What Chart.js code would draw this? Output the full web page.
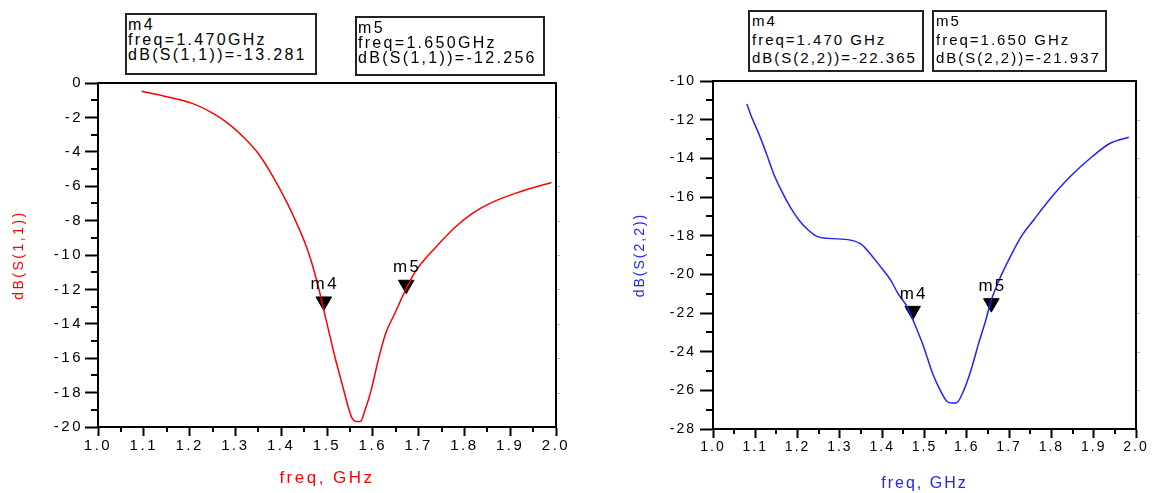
<!DOCTYPE html>
<html>
<head>
<meta charset="utf-8">
<script src="https://cdn.jsdelivr.net/npm/chart.js@4.4.1/dist/chart.umd.min.js"></script>
<style>
html, body { margin: 0; padding: 0; background: #fff; }
#wrap { position: relative; width: 1153px; height: 493px; overflow: hidden; background: #fff; font-family: "Liberation Sans", Arial, sans-serif; }
canvas { position: absolute; top: 0; }
#s11 { left: 0; }
#s22 { left: 600px; }
.box { position: absolute; box-sizing: border-box; border: 2px solid #222; background: #fff; color: #000; white-space: pre; overflow: hidden; }
.box.l { font-size: 16px; letter-spacing: 2.3px; line-height: 15px; padding: 2px 0 0 1px; }
.box.r { font-size: 15px; letter-spacing: 2px; line-height: 18.5px; padding: 0 0 0 2px; }
</style>
</head>
<body>
<div id="wrap">
  <canvas id="s11" width="600" height="493"></canvas>
  <canvas id="s22" width="553" height="493"></canvas>
  <div id="b11m4" class="box l" style="left:125px;top:13px;width:192px;height:62px"></div>
  <div id="b11m5" class="box l" style="left:355px;top:16px;width:190px;height:60px"></div>
  <div id="b22m4" class="box r" style="left:748px;top:10px;width:176px;height:62px"></div>
  <div id="b22m5" class="box r" style="left:932px;top:10px;width:175px;height:62px"></div>
</div>
<script>
// dB(S(1,1))
const s11Freq = [1.095, 1.143, 1.207, 1.254, 1.286, 1.318, 1.35, 1.382, 1.413, 1.437, 1.452, 1.465, 1.481, 1.493, 1.505, 1.517,
  1.535, 1.547, 1.555, 1.563, 1.573, 1.582, 1.596, 1.612, 1.628, 1.648, 1.668, 1.692, 1.715, 1.739, 1.779, 1.819, 1.858, 1.914, 1.99];
const s11Db = [-0.48, -0.76, -1.2, -1.81, -2.39, -3.15, -4.1, -5.44, -6.97, -8.35, -9.3, -10.3, -11.84, -13.2, -14.56, -15.9,
  -17.7, -18.9, -19.5, -19.68, -19.68, -19.1, -17.9, -16.1, -14.56, -13.4, -12.23, -11.0, -10.2, -9.5, -8.4, -7.55, -6.97, -6.39, -5.78];

// dB(S(2,2))
const s22Freq = [1.08, 1.091, 1.108, 1.126, 1.143, 1.165, 1.182, 1.203, 1.225, 1.247, 1.273, 1.325, 1.351, 1.368, 1.394, 1.42,
  1.437, 1.459, 1.476, 1.498, 1.519, 1.537, 1.554, 1.565, 1.576, 1.593, 1.61, 1.628, 1.645, 1.658, 1.68, 1.706, 1.73, 1.758,
  1.801, 1.844, 1.896, 1.939, 1.983];
const s22Db = [-11.19, -11.85, -12.71, -13.74, -14.78, -15.81, -16.5, -17.19, -17.71, -18.05, -18.14, -18.23, -18.45, -18.85, -19.55, -20.3,
  -20.98, -21.68, -22.53, -23.74, -25.12, -25.99, -26.59, -26.65, -26.64, -25.99, -24.95, -23.57, -22.36, -21.33, -20.12, -18.95, -18.0, -17.19,
  -15.99, -14.95, -13.92, -13.22, -12.91];

// markers (triangle positions as drawn) and their readouts
const markerNames = ["m4", "m5"];
const s11MarkerFreq = [1.493, 1.673];
const s11MarkerDb = [-12.70, -11.73];
const s22MarkerFreq = [1.472, 1.658];
const s22MarkerDb = [-21.89, -21.49];
const s11Readout = [["m4", "freq=1.470GHz", "dB(S(1,1))=-13.281"], ["m5", "freq=1.650GHz", "dB(S(1,1))=-12.256"]];
const s22Readout = [["m4", "freq=1.470 GHz", "dB(S(2,2))=-22.365"], ["m5", "freq=1.650 GHz", "dB(S(2,2))=-21.937"]];

const freqTicks = { min: 1, max: 2, step: 0.1 };
const s11Range = { min: -20, max: 0, step: 2 };
const s22Range = { min: -28, max: -10, step: 2 };

const FONT = '"Liberation Sans", Arial, sans-serif';
const RED = "#ff0000";
const BLUE = "#2222ff";

document.getElementById("b11m4").textContent = s11Readout[0].join("\n");
document.getElementById("b11m5").textContent = s11Readout[1].join("\n");
document.getElementById("b22m4").textContent = s22Readout[0].join("\n");
document.getElementById("b22m5").textContent = s22Readout[1].join("\n");

const plotDeco = {
    id: "plotDeco",
    beforeDraw(chart, args, opts) {
        chart.ctx.letterSpacing = opts.spacing;
    },
    beforeDatasetsDraw(chart, args, opts) {
        const { ctx, chartArea: a, scales: { x, y } } = chart;
        ctx.save();
        ctx.strokeStyle = "#000";
        ctx.lineWidth = 2;
        ctx.strokeRect(a.left, a.top, a.right - a.left, a.bottom - a.top);
        ctx.beginPath();
        // minor ticks every 0.05 GHz and every 1 dB
        for (let i = 0; i < 10; i++) {
            const px = Math.round(x.getPixelForValue(freqTicks.min + 0.05 + i * 0.1));
            ctx.moveTo(px, a.bottom);
            ctx.lineTo(px, a.bottom + opts.minorX);
        }
        for (let v = y.min + 1; v < y.max; v += 2) {
            const py = Math.round(y.getPixelForValue(v));
            ctx.moveTo(a.left - opts.minorY, py);
            ctx.lineTo(a.left, py);
        }
        ctx.stroke();
        ctx.strokeStyle = "#bbb";
        ctx.lineWidth = 1;
        ctx.beginPath();
        for (let v = y.min + 2; v < y.max; v += 2) {
            const py = Math.round(y.getPixelForValue(v)) + 0.5;
            ctx.moveTo(a.right + 1, py);
            ctx.lineTo(a.right + 4, py);
        }
        ctx.stroke();
        ctx.restore();
    },
    afterDatasetsDraw(chart, args, opts) {
        const { ctx } = chart;
        const meta = chart.getDatasetMeta(1);
        ctx.save();
        ctx.font = opts.labelFont;
        ctx.fillStyle = "#000";
        ctx.textAlign = "center";
        ctx.textBaseline = "middle";
        meta.data.forEach((pt, i) => ctx.fillText(markerNames[i], pt.x + 1, pt.y - 17));
        ctx.restore();
    }
};

function makePlot(canvasId, cfg) {
    return new Chart(document.getElementById(canvasId), {
        type: "scatter",
        data: {
            datasets: [
                {
                    data: cfg.freq.map((f, i) => ({ x: f, y: cfg.db[i] })),
                    showLine: true,
                    borderColor: cfg.color,
                    borderWidth: 1.5,
                    pointRadius: 0,
                    cubicInterpolationMode: "monotone"
                },
                {
                    data: cfg.markerFreq.map((f, i) => ({ x: f, y: cfg.markerDb[i] })),
                    showLine: false,
                    pointStyle: "triangle",
                    rotation: 180,
                    pointRadius: 9,
                    backgroundColor: "#000",
                    borderColor: "#000",
                    borderWidth: 1
                }
            ]
        },
        options: {
            responsive: false,
            animation: false,
            events: [],
            layout: { padding: { left: 0, top: cfg.top, right: cfg.right, bottom: 0 } },
            plugins: {
                legend: { display: false },
                tooltip: { enabled: false },
                plotDeco: { spacing: cfg.spacing, minorX: 5, minorY: 7, labelFont: "17px " + FONT }
            },
            scales: {
                x: {
                    type: "linear",
                    min: freqTicks.min,
                    max: freqTicks.max,
                    afterFit: s => { s.height = cfg.xHeight; },
                    ticks: {
                        stepSize: freqTicks.step,
                        autoSkip: false,
                        maxRotation: 0,
                        padding: cfg.xPad,
                        color: "#000",
                        font: { family: FONT, size: cfg.tickSize },
                        callback: v => Number(v).toFixed(1)
                    },
                    grid: { drawOnChartArea: false, tickLength: 9, tickWidth: 2, tickColor: "#000" },
                    border: { color: "#000", width: 2 },
                    title: {
                        display: true,
                        text: "freq, GHz",
                        color: cfg.color,
                        font: { family: FONT, size: cfg.xTitleSize },
                        padding: { top: 0, bottom: cfg.xTitlePad }
                    }
                },
                y: {
                    min: cfg.range.min,
                    max: cfg.range.max,
                    afterFit: s => { s.width = cfg.yWidth; },
                    ticks: {
                        stepSize: cfg.range.step,
                        padding: cfg.yPad,
                        color: "#000",
                        font: { family: FONT, size: cfg.tickSize },
                        callback: v => String(v)
                    },
                    grid: { drawOnChartArea: false, tickLength: 13, tickWidth: 2, tickColor: "#000" },
                    border: { color: "#000", width: 2 },
                    title: {
                        display: true,
                        text: cfg.yTitle,
                        color: cfg.color,
                        font: { family: FONT, size: 14 },
                        padding: { top: cfg.yTitlePad, bottom: 0 }
                    }
                }
            }
        },
        plugins: [plotDeco]
    });
}

makePlot("s11", {
    freq: s11Freq, db: s11Db, markerFreq: s11MarkerFreq, markerDb: s11MarkerDb,
    color: RED, range: s11Range, yTitle: "dB(S(1,1))",
    top: 83, right: 44, xHeight: 66, yWidth: 98,
    tickSize: 15, spacing: "2.5px", xPad: 1, yPad: 2,
    xTitleSize: 17, xTitlePad: 4, yTitlePad: 11
});

makePlot("s22", {
    freq: s22Freq, db: s22Db, markerFreq: s22MarkerFreq, markerDb: s22MarkerDb,
    color: BLUE, range: s22Range, yTitle: "dB(S(2,2))",
    top: 81, right: 17, xHeight: 64, yWidth: 113,
    tickSize: 14, spacing: "2px", xPad: 1, yPad: 4,
    xTitleSize: 16, xTitlePad: 0, yTitlePad: 32
});
</script>
</body>
</html>
